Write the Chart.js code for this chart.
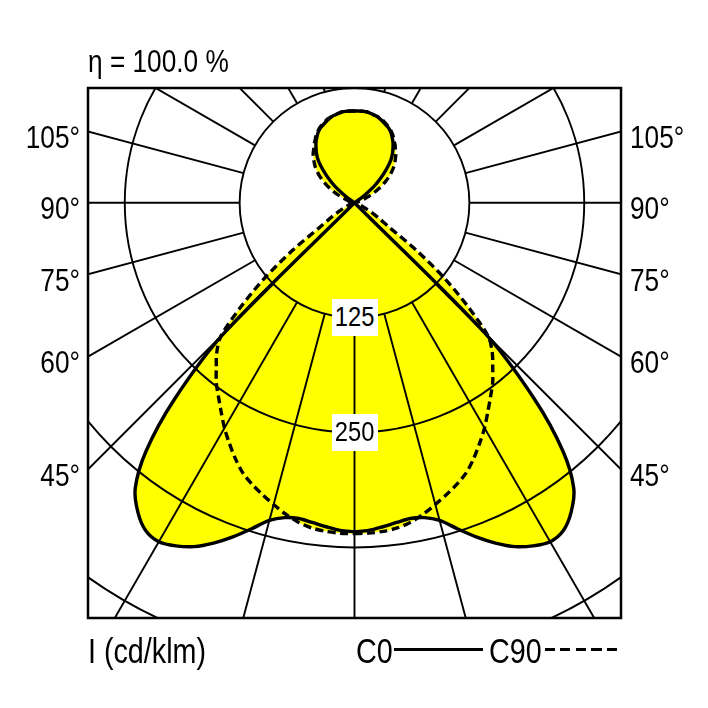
<!DOCTYPE html>
<html>
<head>
<meta charset="utf-8">
<script src="https://cdn.jsdelivr.net/npm/chart.js@4/dist/chart.umd.min.js"></script>
<style>
  html, body { margin: 0; padding: 0; background: #fff; }
  #wrap { position: relative; width: 708px; height: 708px; }
  .lbl {
    position: absolute;
    font-family: "Liberation Sans", Arial, sans-serif;
    color: #000;
    white-space: nowrap;
    line-height: 1;
  }
  .box { background: #fff; text-align: center; }
  .box span { display: inline-block; transform: scaleX(0.88); }
</style>
</head>
<body>
<div id="wrap"><canvas id="polar"></canvas></div>
<script>
// gamma angles (0 = straight down, 180 = straight up), degrees
const gammaAngles = [
  0, 2.5, 5, 7.5, 10, 12.5, 15, 17.5, 20, 22.5, 25, 27.5, 30, 32.5, 35, 37.5, 40, 42.5, 45, 47.5,
  50, 52.5, 55, 57.5, 60, 62.5, 65, 67.5, 70, 72.5, 75, 77.5, 80, 82.5, 85, 87.5, 90, 92.5, 95, 97.5,
  100, 102.5, 105, 107.5, 110, 112.5, 115, 117.5, 120, 122.5, 125, 127.5, 130, 132.5, 135, 137.5,
  140, 142.5, 145, 147.5, 150, 152.5, 155, 157.5, 160, 162.5, 165, 167.5, 170, 172.5, 175, 177.5, 180
];

// C0 plane, cd/klm
const c0Values = [
  358, 357, 354, 351, 349, 351, 358, 372, 387, 401, 413, 421, 426, 423, 411, 392, 353, 290, 200, 0,
  0, 0, 0, 0, 0, 0, 0, 0, 0, 0, 0, 0, 0, 0, 0, 0, 0, 0, 0, 0,
  0, 0, 0, 0, 0, 0, 0, 0, 0, 0, 6, 15, 27, 36, 45, 54,
  62, 68, 73, 78, 82, 86, 89, 91, 93, 95, 97, 98, 99, 100, 100, 100, 100
];

// C90 plane, cd/klm
const c90Values = [
  360, 360, 359, 357, 353, 347, 340, 333, 326, 318, 307, 295, 283, 270, 258, 247, 234, 222, 206, 168,
  128, 85, 45, 32, 23, 15, 10, 7, 5, 3, 2, 1, 0, 0, 0, 0, 0, 0, 0, 0,
  0, 1, 3, 5, 8, 13, 18, 24, 30, 36, 42, 48, 53, 58, 62, 66,
  70, 73, 77, 80, 84, 87, 90, 92, 94, 96, 97, 98, 99, 100, 100, 100, 100
];

const ringValues = [125, 250, 375, 500, 625];
const ringLabels = [125, 250];
const angleTicks = [45, 60, 75, 90, 105];

const YELLOW = '#ffff00';
const NARROW = 0.82;

// polar (gamma, I) -> x/y, right half going up, then left half coming back down
function toShape(values) {
  let pts = [];
  gammaAngles.forEach((g, i) => {
    let a = g * Math.PI / 180;
    pts.push({ x: values[i] * Math.sin(a), y: -values[i] * Math.cos(a) });
  });
  for (let i = gammaAngles.length - 1; i >= 0; i--) {
    let a = gammaAngles[i] * Math.PI / 180;
    pts.push({ x: -values[i] * Math.sin(a), y: -values[i] * Math.cos(a) });
  }
  return pts;
}

// yellow fill + polar grid, drawn under the outlines
const polarGrid = {
  id: 'polarGrid',
  beforeDatasetsDraw(chart) {
    const { ctx, chartArea: area, scales: { x, y } } = chart;
    const cx = x.getPixelForValue(0);
    const cy = y.getPixelForValue(0);
    const k = (x.getPixelForValue(100) - cx) / 100;

    ctx.save();
    ctx.beginPath();
    ctx.rect(area.left, area.top, area.right - area.left, area.bottom - area.top);
    ctx.clip();

    chart.getSortedVisibleDatasetMetas().forEach(meta => {
      ctx.beginPath();
      meta.dataset.path(ctx);
      ctx.closePath();
      ctx.fillStyle = YELLOW;
      ctx.fill();
    });

    ctx.strokeStyle = '#000';
    ctx.lineWidth = 1.9;
    ringValues.forEach(r => {
      ctx.beginPath();
      ctx.arc(cx, cy, r * k, 0, Math.PI * 2);
      ctx.stroke();
    });
    for (let g = 0; g < 360; g += 15) {
      let a = g * Math.PI / 180;
      ctx.beginPath();
      ctx.moveTo(cx + Math.sin(a) * ringValues[0] * k, cy + Math.cos(a) * ringValues[0] * k);
      ctx.lineTo(cx + Math.sin(a) * 1200 * k, cy + Math.cos(a) * 1200 * k);
      ctx.stroke();
    }
    ctx.restore();
  },
  afterDraw(chart) {
    const { ctx, chartArea: area } = chart;
    ctx.save();
    ctx.strokeStyle = '#000';
    ctx.lineWidth = 2.5;
    ctx.strokeRect(area.left, area.top, area.right - area.left, area.bottom - area.top);
    ctx.restore();
  }
};

let canvasPolar = document.getElementById('polar');
let ctxPolar = canvasPolar.getContext('2d');

let polarChart = new Chart(ctxPolar, {
  type: 'scatter',
  data: {
    datasets: [{
      label: 'C0',
      data: toShape(c0Values),
      showLine: true,
      borderColor: '#000',
      borderWidth: 3.4,
      tension: 0.3,
      pointRadius: 0,
      fill: false
    }, {
      label: 'C90',
      data: toShape(c90Values),
      showLine: true,
      borderColor: '#000',
      borderWidth: 3.4,
      borderDash: [8, 4.5],
      tension: 0.3,
      pointRadius: 0,
      fill: false
    }]
  },
  options: {
    responsive: true,
    maintainAspectRatio: false,
    animation: false,
    layout: {
      padding: { left: 88, top: 88, right: 87, bottom: 90 }
    },
    plugins: {
      legend: { display: false },
      tooltip: { enabled: false }
    },
    scales: {
      x: { type: 'linear', min: -290, max: 290, display: false },
      y: { type: 'linear', min: -452, max: 125, display: false }
    }
  },
  plugins: [polarGrid]
});

// text labels as real html text, placed from the chart's scales
const wrap = document.getElementById('wrap');
function addLabel(text, css, align) {
  let d = document.createElement('div');
  d.className = 'lbl';
  d.textContent = text;
  Object.assign(d.style, css);
  if (align === 'right') {
    d.style.transformOrigin = '100% 50%';
    d.style.transform = 'translate(-100%, -50%) scaleX(' + NARROW + ')';
  } else {
    d.style.transformOrigin = '0 50%';
    d.style.transform = 'translateY(-50%) scaleX(' + NARROW + ')';
  }
  wrap.appendChild(d);
  return d;
}

const sx = polarChart.scales.x;
const sy = polarChart.scales.y;
const area = polarChart.chartArea;

angleTicks.forEach(g => {
  let a = g * Math.PI / 180;
  let yPix = sy.getPixelForValue(-sx.max * Math.cos(a) / Math.sin(a)) + 5.5;
  addLabel(g + '°', { left: (area.left - 8) + 'px', top: yPix + 'px', fontSize: '32px' }, 'right');
  addLabel(g + '°', { left: (area.right + 9) + 'px', top: yPix + 'px', fontSize: '32px' }, 'left');
});

ringLabels.forEach(r => {
  let yPix = sy.getPixelForValue(-r);
  let xPix = sx.getPixelForValue(0);
  let b = document.createElement('div');
  b.className = 'lbl box';
  Object.assign(b.style, {
    left: (xPix - 23) + 'px', top: (yPix - 18.5) + 'px', width: '46px', height: '37px',
    lineHeight: '37px', fontSize: '27px'
  });
  let s = document.createElement('span');
  s.textContent = String(r);
  b.appendChild(s);
  wrap.appendChild(b);
});

addLabel('η = 100.0 %', { left: '88px', top: '60.5px', fontSize: '32px' }, 'left');
addLabel('I (cd/klm)', { left: '88px', top: '650px', fontSize: '35px' }, 'left');
addLabel('C0', { left: '356px', top: '650px', fontSize: '35px' }, 'left');
addLabel('C90', { left: '489px', top: '650px', fontSize: '35px' }, 'left');

let solidKey = document.createElement('div');
Object.assign(solidKey.style, { position: 'absolute', left: '394px', top: '647.5px', width: '89px', height: '3.5px', background: '#000' });
wrap.appendChild(solidKey);
let dashKey = document.createElement('div');
Object.assign(dashKey.style, {
  position: 'absolute', left: '545px', top: '647.5px', width: '74px', height: '3.5px',
  background: 'repeating-linear-gradient(to right, #000 0 10px, transparent 10px 15.5px)'
});
wrap.appendChild(dashKey);
</script>
</body>
</html>
